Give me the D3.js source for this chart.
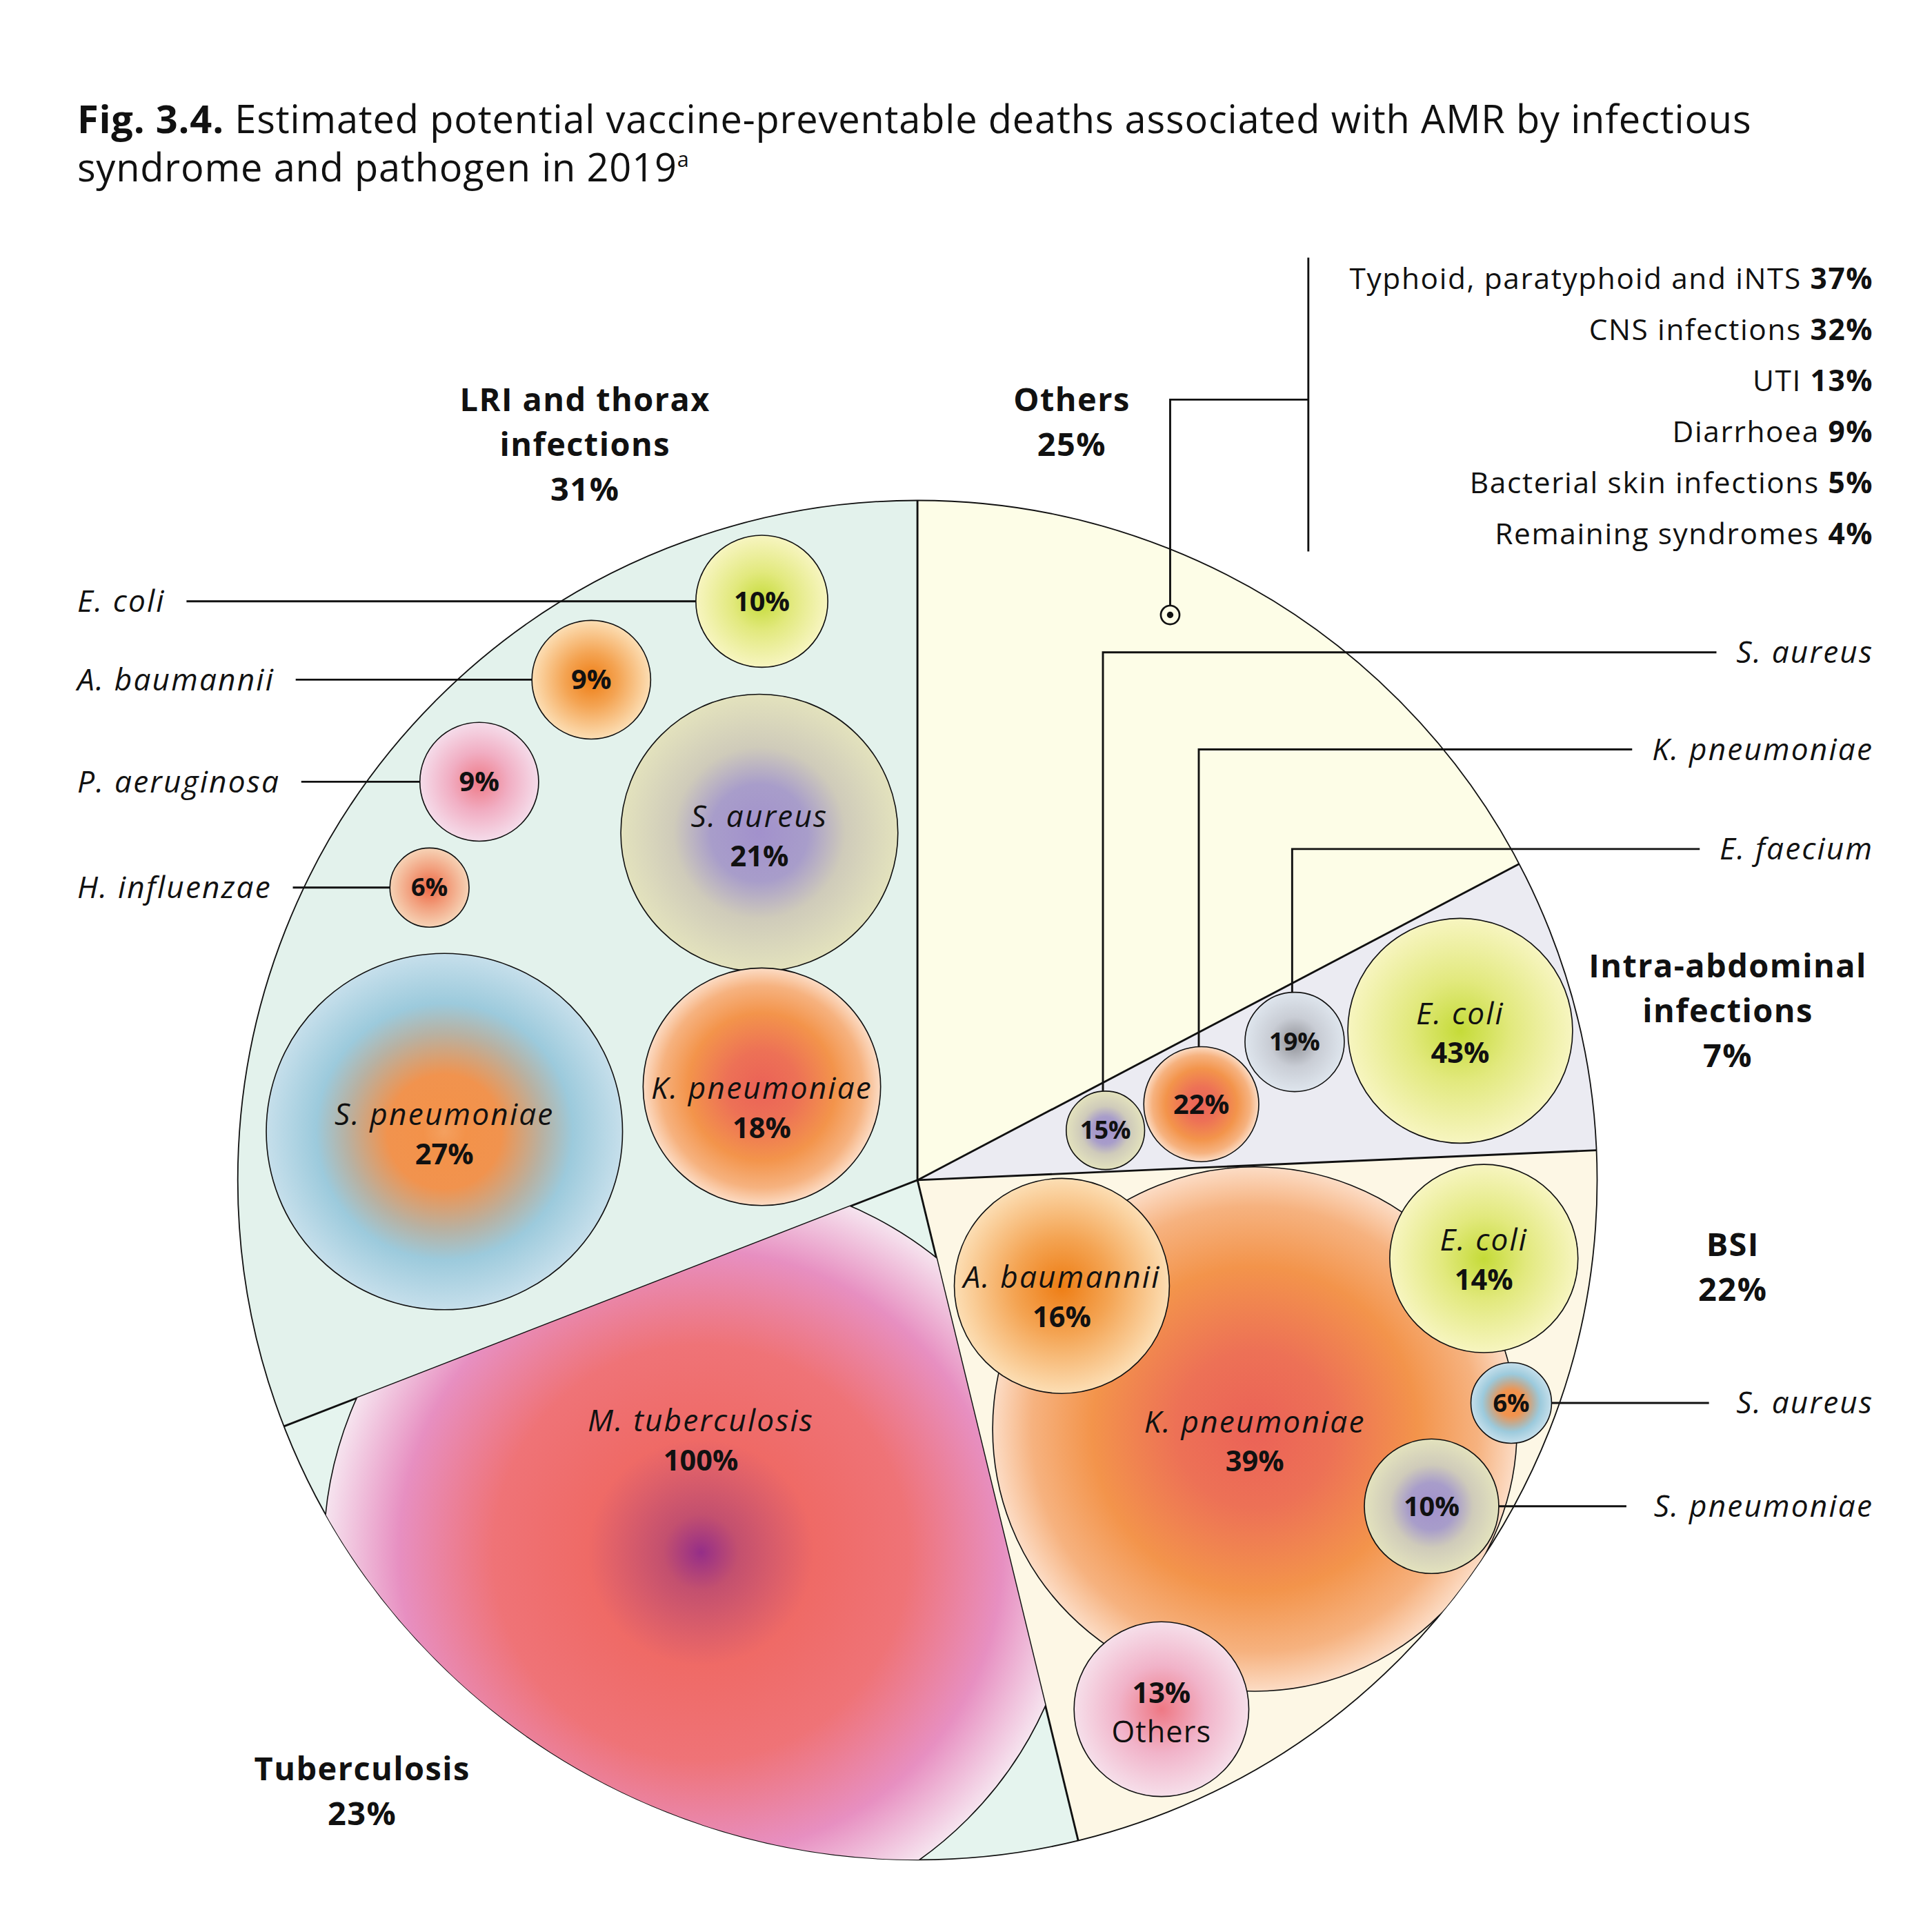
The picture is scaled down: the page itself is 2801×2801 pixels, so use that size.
<!DOCTYPE html>
<html>
<head>
<meta charset="utf-8">
<script src="https://cdn.jsdelivr.net/npm/d3@7"></script>
<style>
  body { margin: 0; background: #fff; }
  svg { display: block; }
</style>
</head>
<body>
<svg id="chart"></svg>
<script>
// ---- data ----
const syndromes = ["Others", "Intra-abdominal infections", "BSI", "Tuberculosis", "LRI and thorax infections"];
const syndromePct = [25, 7, 22, 23, 31];            // printed share
const syndromeArcShare = [17.3, 7, 21.9, 22.9, 30.9]; // share of the circle the slice actually takes

const lriPathogens = ["E. coli", "A. baumannii", "P. aeruginosa", "H. influenzae", "S. aureus", "S. pneumoniae", "K. pneumoniae"];
const lriPct = [10, 9, 9, 6, 21, 27, 18];

const intraPathogens = ["S. aureus", "K. pneumoniae", "E. faecium", "E. coli"];
const intraPct = [15, 22, 19, 43];

const bsiPathogens = ["K. pneumoniae", "A. baumannii", "E. coli", "S. aureus", "S. pneumoniae", "Others"];
const bsiPct = [39, 16, 14, 6, 10, 13];

const tbPathogens = ["M. tuberculosis"];
const tbPct = [100];

const othersSyndromes = ["Typhoid, paratyphoid and iNTS", "CNS infections", "UTI", "Diarrhoea", "Bacterial skin infections", "Remaining syndromes"];
const othersPct = [37, 32, 13, 9, 5, 4];

// ---- layout / style ----
const W = 1552;
const C = [737, 948], R = 546;
const FONT = "'Open Sans', 'Noto Sans', sans-serif";

const sliceFill = ["#fdfde7", "#ebebf2", "#fdf7e5", "#e5f4ee", "#e3f2ec"];
const sliceLabelPos = [[861, 321], [1388, 776], [1392, 1000], [291, 1421], [470, 321]];
const sliceLabelLines = [["Others"], ["Intra-abdominal", "infections"], ["BSI"], ["Tuberculosis"], ["LRI and thorax", "infections"]];

// radial colour ramps
const ramps = {
  eco: [[0, "#c5db38"], [0.45, "#e2e97e"], [1, "#f7f5c0"]],
  aba: [[0, "#ee7d14"], [0.45, "#f4a453"], [1, "#fcdeb4"]],
  pae: [[0, "#ee7986"], [0.5, "#f1aec3"], [1, "#f5dcea"]],
  hin: [[0, "#ee6744"], [0.5, "#f2a07e"], [1, "#f6d3b6"]],
  sau: [[0, "#a291cc"], [0.35, "#a89dca"], [0.62, "#cfcbba"], [1, "#e3e2bd"]],
  spn: [[0, "#f4a05f"], [0.12, "#f3924a"], [0.32, "#f1934e"], [0.55, "#b8b1a2"], [0.72, "#9ccadc"], [1, "#c6dfeb"]],
  kpn: [[0, "#eb6257"], [0.3, "#ed7156"], [0.62, "#f3944b"], [0.85, "#f6b27f"], [1, "#fcdcc5"]],
  efa: [[0, "#8f9096"], [0.5, "#c9cdd5"], [1, "#dee5ed"]],
  oth: [[0, "#ee7884"], [0.5, "#f1b3c9"], [1, "#f6dfea"]],
  mtb: [[0, "#952e88"], [0.1, "#c3506f"], [0.3, "#ef6a66"], [0.55, "#ef7377"], [0.8, "#e78fc1"], [1, "#f6e4ef"]]
};

// bubble placement (slice index, radius per 1 %, spots)
const sets = [
  { slice: 4, names: lriPathogens, pct: lriPct, k: 5.3,
    ramp: ["eco", "aba", "pae", "hin", "sau", "spn", "kpn"],
    spots: [
      { x: 612, y: 483, label: "left" },
      { x: 475, y: 546, label: "left" },
      { x: 385, y: 628, label: "left" },
      { x: 345, y: 713, label: "left" },
      { x: 610, y: 669, label: "in", ty: 656 },
      { x: 357, y: 909, label: "in", ty: 895 },
      { x: 612, y: 873, label: "in", ty: 874 }
    ] },
  { slice: 1, names: intraPathogens, pct: intraPct, k: 2.1,
    ramp: ["sau", "kpn", "efa", "eco"],
    spots: [
      { x: 888, y: 908, label: "elbow", ly: 524 },
      { x: 965, y: 887, label: "elbow", ly: 602 },
      { x: 1040, y: 837, label: "elbow", ly: 682 },
      { x: 1173, y: 828, label: "in", ty: 814 }
    ] },
  { slice: 2, names: bsiPathogens, pct: bsiPct, k: 5.4,
    ramp: ["kpn", "aba", "eco", "spn", "sau", "oth"],
    spots: [
      { x: 1008, y: 1148, label: "in", ty: 1142 },
      { x: 853, y: 1033, label: "in", ty: 1026 },
      { x: 1192, y: 1011, label: "in", ty: 996 },
      { x: 1214, y: 1127, label: "right" },
      { x: 1150, y: 1210, label: "right" },
      { x: 933, y: 1373, label: "pctFirst", ty: 1360 }
    ] },
  { slice: 3, names: tbPathogens, pct: tbPct, k: 3.03,
    ramp: ["mtb"],
    spots: [{ x: 563, y: 1247, label: "in", ty: 1141 }] }
];

const svg = d3.select("#chart")
  .attr("viewBox", `0 0 ${W} ${W}`)
  .attr("width", 2801).attr("height", 2801)
  .style("font-family", FONT);

svg.append("rect").attr("width", W).attr("height", W).attr("fill", "#fff");

const defs = svg.append("defs");
Object.entries(ramps).forEach(([key, stops]) => {
  const g = defs.append("radialGradient").attr("id", "g-" + key);
  g.selectAll("stop").data(stops).join("stop")
    .attr("offset", d => d[0]).attr("stop-color", d => d[1]);
});

// ---- title ----
const title = svg.append("text").attr("x", 62).attr("y", 107).attr("font-size", 31)
  .attr("letter-spacing", 0.45).attr("fill", "#111");
title.append("tspan").attr("font-weight", 700).text("Fig. 3.4.");
title.append("tspan").text(" Estimated potential vaccine-preventable deaths associated with AMR by infectious");
const t2 = svg.append("text").attr("x", 62).attr("y", 146).attr("font-size", 31)
  .attr("letter-spacing", 0.45).attr("fill", "#111");
t2.append("tspan").text("syndrome and pathogen in 2019");
t2.append("tspan").attr("font-size", 17).attr("dy", -12).text("a");

// ---- pie ----
const pie = d3.pie().sort(null).value(d => d)(syndromeArcShare);
const arc = d3.arc().innerRadius(0).outerRadius(R);

const pieG = svg.append("g").attr("transform", `translate(${C[0]},${C[1]})`);
pieG.selectAll("path.slice").data(pie).join("path")
  .attr("class", "slice")
  .attr("d", arc)
  .attr("fill", (d, i) => sliceFill[i]);

pie.forEach((d, i) => {
  defs.append("clipPath").attr("id", "clip-" + i)
    .append("path").attr("transform", `translate(${C[0]},${C[1]})`).attr("d", arc(d));
});

// ---- bubbles ----
const bubbleLayer = svg.append("g");
sets.forEach(set => {
  const r = d3.scaleLinear().domain([0, 1]).range([0, set.k]);
  const g = bubbleLayer.append("g").attr("clip-path", `url(#clip-${set.slice})`);
  set.spots.forEach((s, i) => {
    g.append("circle")
      .attr("cx", s.x).attr("cy", s.y).attr("r", r(set.pct[i]))
      .attr("fill", `url(#g-${set.ramp[i]})`)
      .attr("stroke", "#111").attr("stroke-width", 0.9);
  });
});

// slice outlines on top
pieG.selectAll("line.edge").data(pie).join("line")
  .attr("class", "edge")
  .attr("x1", 0).attr("y1", 0)
  .attr("x2", d => R * Math.sin(d.startAngle))
  .attr("y2", d => -R * Math.cos(d.startAngle))
  .attr("stroke", "#111").attr("stroke-width", 1.6);
pieG.append("circle").attr("r", R).attr("fill", "none").attr("stroke", "#111").attr("stroke-width", 1);

// ---- bubble labels and leader lines ----
const labelLayer = svg.append("g").attr("fill", "#111");
const lineLayer = svg.append("g").attr("stroke", "#111").attr("stroke-width", 1.6).attr("fill", "none");
const ITAL = 24.5, LS = 1.2;

sets.forEach(set => {
  const r = d3.scaleLinear().domain([0, 1]).range([0, set.k]);
  set.spots.forEach((s, i) => {
    const rad = r(set.pct[i]);
    const pctTxt = set.pct[i] + "%";
    const small = rad < 40;
    if (s.label === "in") {
      labelLayer.append("text").attr("x", s.x).attr("y", s.ty).attr("dy", "0.35em")
        .attr("text-anchor", "middle").attr("font-size", ITAL).attr("font-style", "italic")
        .attr("letter-spacing", LS).text(set.names[i]);
      labelLayer.append("text").attr("x", s.x).attr("y", s.ty + 32).attr("dy", "0.35em")
        .attr("text-anchor", "middle").attr("font-size", 23).attr("font-weight", 700)
        .text(pctTxt);
    } else if (s.label === "pctFirst") {
      labelLayer.append("text").attr("x", s.x).attr("y", s.ty).attr("dy", "0.35em")
        .attr("text-anchor", "middle").attr("font-size", 23).attr("font-weight", 700)
        .text(pctTxt);
      labelLayer.append("text").attr("x", s.x).attr("y", s.ty + 31).attr("dy", "0.35em")
        .attr("text-anchor", "middle").attr("font-size", 24).attr("letter-spacing", 0.6)
        .text(set.names[i]);
    } else {
      labelLayer.append("text").attr("x", s.x).attr("y", s.y).attr("dy", "0.35em")
        .attr("text-anchor", "middle").attr("font-size", small ? 20 : 22).attr("font-weight", 700)
        .text(pctTxt);
    }

    if (s.label === "left") {
      const t = labelLayer.append("text").attr("x", 62).attr("y", s.y).attr("dy", "0.35em")
        .attr("font-size", ITAL).attr("font-style", "italic").attr("letter-spacing", LS).text(set.names[i]);
      const end = 62 + t.node().getComputedTextLength() + 17;
      lineLayer.append("path").attr("d", d3.line()([[end, s.y], [s.x - rad, s.y]]));
    }
    if (s.label === "elbow") {
      const t = labelLayer.append("text").attr("x", 1505).attr("y", s.ly).attr("dy", "0.35em")
        .attr("text-anchor", "end").attr("font-size", ITAL).attr("font-style", "italic")
        .attr("letter-spacing", LS).text(set.names[i]);
      const start = 1505 - t.node().getComputedTextLength() - 16;
      lineLayer.append("path").attr("d", d3.line()([[start, s.ly], [s.x - 2, s.ly], [s.x - 2, s.y - rad]]));
    }
    if (s.label === "right") {
      const t = labelLayer.append("text").attr("x", 1505).attr("y", s.y).attr("dy", "0.35em")
        .attr("text-anchor", "end").attr("font-size", ITAL).attr("font-style", "italic")
        .attr("letter-spacing", LS).text(set.names[i]);
      const start = 1505 - t.node().getComputedTextLength() - 22;
      lineLayer.append("path").attr("d", d3.line()([[start, s.y], [s.x + rad, s.y]]));
    }
  });
});

// ---- slice titles ----
sliceLabelLines.forEach((lines, i) => {
  const [x, y] = sliceLabelPos[i];
  const all = lines.concat([syndromePct[i] + "%"]);
  all.forEach((txt, j) => {
    labelLayer.append("text").attr("x", x).attr("y", y + j * 36).attr("dy", "0.35em")
      .attr("text-anchor", "middle").attr("font-size", 26).attr("font-weight", 700)
      .attr("letter-spacing", 0.8).text(txt);
  });
});

// ---- breakdown of "Others" ----
const legendY = d3.scalePoint().domain(othersSyndromes).range([224, 429]);
othersSyndromes.forEach((name, i) => {
  const t = labelLayer.append("text").attr("x", 1505).attr("y", legendY(name)).attr("dy", "0.35em")
    .attr("text-anchor", "end").attr("font-size", 23.5).attr("letter-spacing", 0.9);
  t.append("tspan").text(name + " ");
  t.append("tspan").attr("font-weight", 700).text(othersPct[i] + "%");
});
lineLayer.append("path").attr("d", d3.line()([[1051, 207], [1051, 443]]));
lineLayer.append("path").attr("d", d3.line()([[1051, 321], [940, 321], [940, 487]]));
lineLayer.append("circle").attr("cx", 940).attr("cy", 494).attr("r", 7.5).attr("stroke-width", 1.5);
labelLayer.append("circle").attr("cx", 940).attr("cy", 494).attr("r", 2.6);
</script>
</body>
</html>
